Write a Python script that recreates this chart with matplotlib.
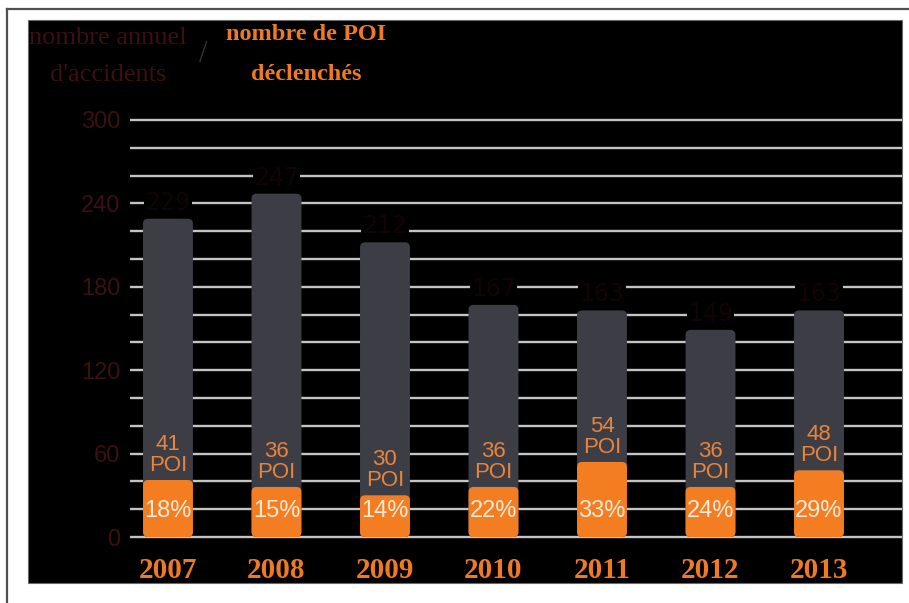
import numpy as np
import matplotlib.pyplot as plt
from matplotlib.patches import FancyBboxPatch, Rectangle
from matplotlib.lines import Line2D

years = ["2007", "2008", "2009", "2010", "2011", "2012", "2013"]
accidents = [229, 247, 212, 167, 163, 149, 163]
poi = [41, 36, 30, 36, 54, 36, 48]
pct = ["18%", "15%", "14%", "22%", "33%", "24%", "29%"]

W, H = 909, 603
fig = plt.figure(figsize=(W / 100, H / 100), dpi=100)
fig.patch.set_facecolor("white")

# black panel behind the chart
fig.add_artist(Rectangle((28 / W, 1 - 583 / H), (902 - 28) / W, (583 - 20) / H,
                         transform=fig.transFigure, facecolor="black",
                         edgecolor="#6a6a6a", linewidth=0.8, zorder=0))
# thin page frame (top and left)
fig.add_artist(Line2D([7 / W, 1], [1 - 9 / H, 1 - 9 / H], transform=fig.transFigure,
                      color="#505050", linewidth=1.6))
fig.add_artist(Line2D([7 / W, 7 / W], [0, 1 - 9 / H], transform=fig.transFigure,
                      color="#505050", linewidth=1.6))

# axes placed so that 0 sits at y=537px and 300 at y=120px
y0, y300 = 537, 120
ppu = (y0 - y300) / 300
top_px, bot_px = 100, 545
ax = fig.add_axes([130 / W, 1 - bot_px / H, (902 - 130) / W, (bot_px - top_px) / H])
ax.set_facecolor("none")
ax.set_ylim(-(bot_px - y0) / ppu, 300 + (y300 - top_px) / ppu)
x = np.arange(len(years))
ax.set_xlim(-0.35, 6.765)
for s in ax.spines.values():
    s.set_visible(False)

for g in range(0, 301, 20):
    ax.axhline(g, color="#c4c4c4", linewidth=1.7, zorder=1)

# rounded bars: convert a pixel radius into data units on each axis
fig.canvas.draw()
bb = ax.get_window_extent()
px_x = bb.width / (ax.get_xlim()[1] - ax.get_xlim()[0])
px_y = bb.height / (ax.get_ylim()[1] - ax.get_ylim()[0])
r = 5 / px_x
aspect = px_x / px_y
bw = 0.46


def rbar(xc, h, color, z):
    p = FancyBboxPatch((xc - bw / 2, 0), bw, h,
                       boxstyle=f"round,pad=0,rounding_size={r}",
                       mutation_aspect=aspect, facecolor=color,
                       edgecolor="none", zorder=z)
    ax.add_patch(p)


for i in range(len(years)):
    rbar(x[i], accidents[i], "#3d3e45", 2)
    rbar(x[i], poi[i], "#f47d22", 3)
    # total, printed in a near-black tone
    ax.annotate(str(accidents[i]), (x[i], accidents[i]), xytext=(0, 3),
                textcoords="offset points", ha="center", va="bottom",
                fontsize=17, color="#120404", zorder=4,
                bbox=dict(boxstyle="square,pad=0.05", facecolor="black",
                          edgecolor="none"))
    ax.annotate(f"{poi[i]}\nPOI", (x[i], poi[i]), xytext=(0, 3),
                textcoords="offset points", ha="center", va="bottom",
                fontsize=16, color="#e8843c", linespacing=1.0,
                family="Liberation Sans", zorder=4)
    ax.text(x[i], 19, pct[i], ha="center", va="center", fontsize=17,
            color="#f6ead8", family="Liberation Sans", zorder=4)

ax.set_yticks(range(0, 301, 60))
ax.set_yticklabels([str(v) for v in range(0, 301, 60)], fontsize=17,
                   color="#3a1111", family="Liberation Sans")
ax.set_xticks(x, years)
for lab in ax.get_xticklabels():
    lab.set_fontfamily("Liberation Serif")
    lab.set_fontweight("bold")
    lab.set_fontsize(21)
    lab.set_color("#f07a22")
ax.tick_params(axis="y", length=0, pad=7)
ax.tick_params(axis="x", length=0, pad=9)

# heading
fig.text(108 / W, 1 - 38 / H, "nombre annuel", ha="center", va="center",
         fontsize=19, color="#3d1010", family="Liberation Serif")
fig.text(108 / W, 1 - 75 / H, "d'accidents", ha="center", va="center",
         fontsize=19, color="#3d1010", family="Liberation Serif")
fig.text(203 / W, 1 - 55 / H, "/", ha="center", va="center",
         fontsize=22, color="#333333", family="Liberation Serif")
fig.text(306 / W, 1 - 35 / H, "nombre de POI", ha="center", va="center",
         fontsize=17.5, color="#f07a22", family="Liberation Serif", fontweight="bold")
fig.text(306 / W, 1 - 75 / H, "déclenchés", ha="center", va="center",
         fontsize=17.5, color="#f07a22", family="Liberation Serif", fontweight="bold")

fig.savefig("out.png", dpi=100, facecolor="white")
